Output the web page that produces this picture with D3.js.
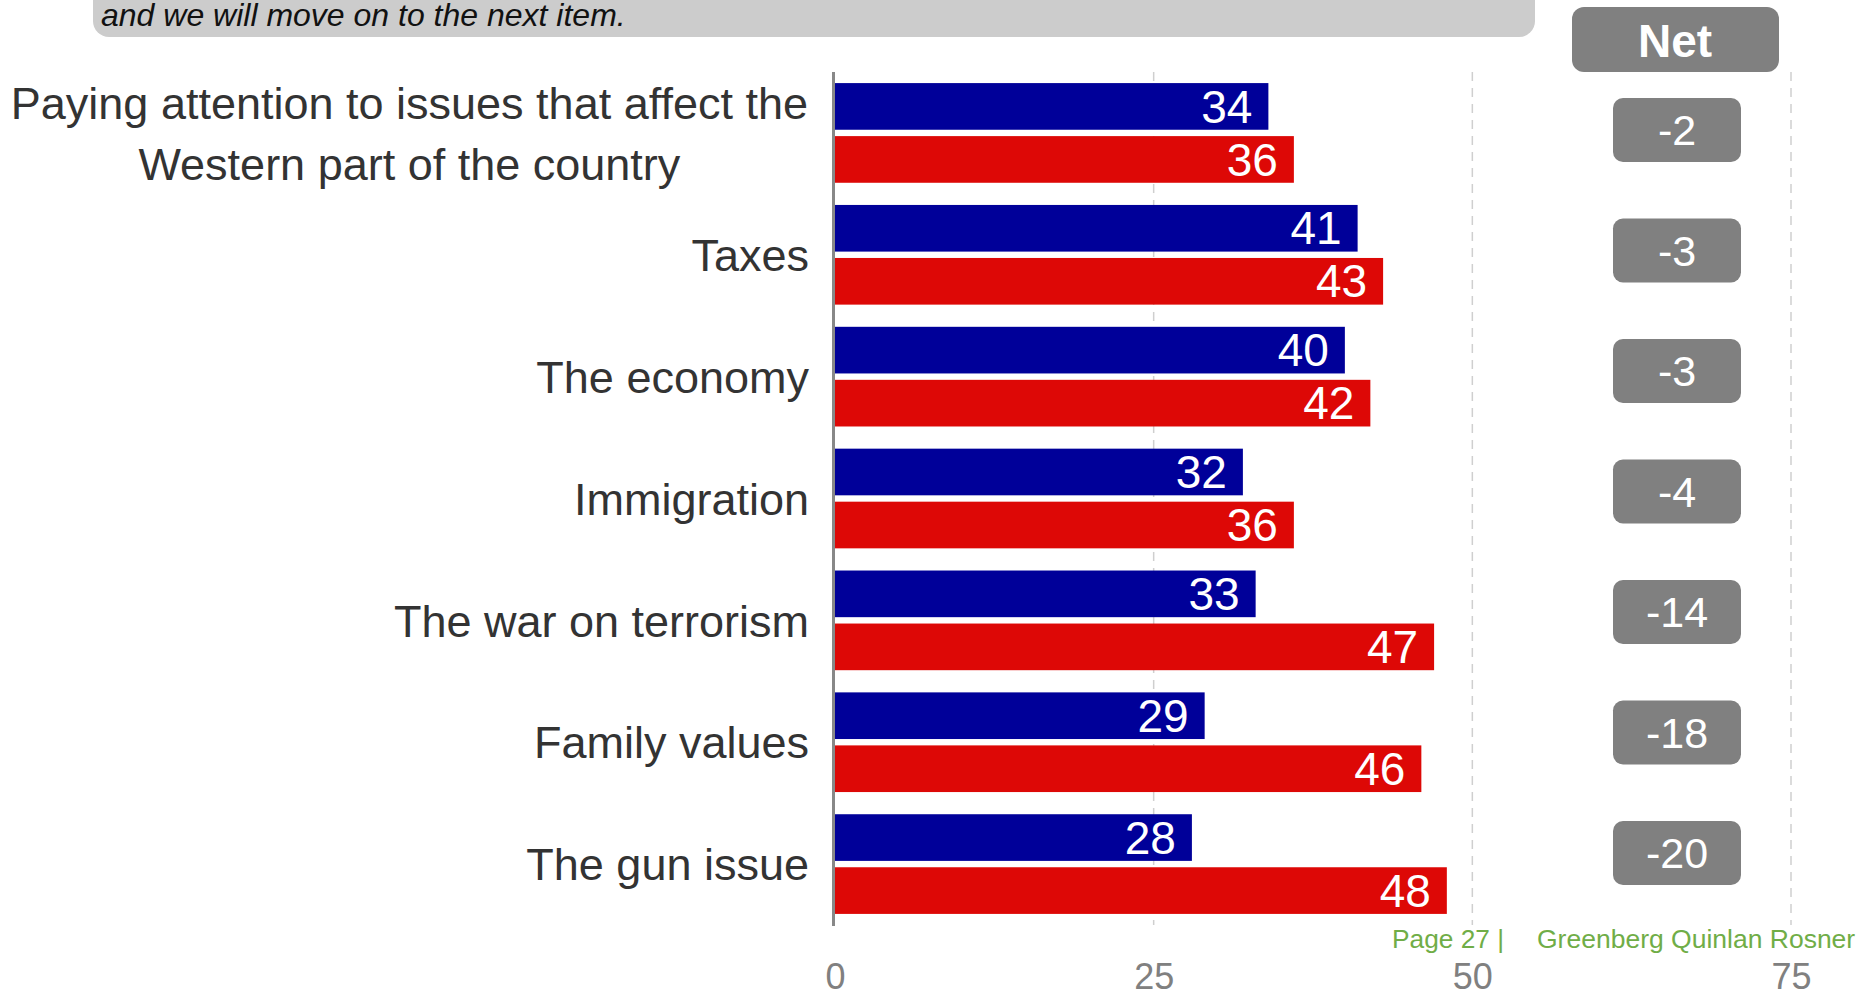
<!DOCTYPE html>
<html><head><meta charset="utf-8">
<script src="https://cdn.jsdelivr.net/npm/d3@7"></script>
<style>
body{margin:0;background:#fff;}
svg{display:block;font-family:"Liberation Sans",Arial,sans-serif;}
</style>
</head><body>
<svg id="c" width="1875" height="995"></svg>
<script>
const categories = [
  "Paying attention to issues that affect the\nWestern part of the country",
  "Taxes",
  "The economy",
  "Immigration",
  "The war on terrorism",
  "Family values",
  "The gun issue"
];
const seriesNames = ["Democrats", "Republicans"];
const blueValues = [34, 41, 40, 32, 33, 29, 28];
const redValues = [36, 43, 42, 36, 47, 46, 48];
const netValues = [-2, -3, -3, -4, -14, -18, -20];
const xTicks = [0, 25, 50, 75];
const bannerText = "and we will move on to the next item.";
const netHeader = "Net";
const footerPage = "Page 27 |";
const footerOrg = "Greenberg Quinlan Rosner";

const colors = { Democrats: "#000099", Republicans: "#DD0806" };
const svg = d3.select("#c");

// Scales
const x = d3.scaleLinear().domain([0, 75]).range([835, 1791]);
const y = d3.scaleBand().domain(categories).range([72, 925]).paddingInner(0.182).paddingOuter(0.091);
const ySub = d3.scaleBand().domain(seriesNames).range([0, y.bandwidth()]).paddingInner(0.12);
const yNet = d3.scalePoint().domain(categories).range([130, 853]);

// Top banner
svg.append("rect").attr("x", 93).attr("y", -30).attr("width", 1442).attr("height", 67)
  .attr("rx", 16).attr("fill", "#cccccc");
svg.append("text").attr("x", 101).attr("y", 26).attr("font-size", 32).attr("font-style", "italic")
  .attr("fill", "#111").text(bannerText);

// Gridlines
svg.append("g").selectAll("line").data(xTicks.filter(t => t > 0)).join("line")
  .attr("x1", d => x(d)).attr("x2", d => x(d)).attr("y1", 72).attr("y2", 925)
  .attr("stroke", "#cfcfcf").attr("stroke-width", 1.5).attr("stroke-dasharray", "9,7");

// Bottom axis labels
const axis = svg.append("g").attr("transform", "translate(0,923)")
  .call(d3.axisBottom(x).tickValues(xTicks).tickSize(0).tickPadding(40).tickFormat(d3.format("d")));
axis.select(".domain").remove();
axis.selectAll("text").attr("font-size", 36).attr("fill", "#808080")
  .attr("font-family", "'Liberation Sans',Arial,sans-serif");

// Data rows
const rows = categories.map((c, i) => ({ c, vals: [
  { s: "Democrats", v: blueValues[i] },
  { s: "Republicans", v: redValues[i] }
], net: netValues[i] }));

const rowG = svg.append("g").selectAll("g").data(rows).join("g")
  .attr("transform", d => `translate(0,${y(d.c)})`);

rowG.selectAll("rect").data(d => d.vals).join("rect")
  .attr("x", x(0)).attr("y", d => ySub(d.s))
  .attr("width", d => x(d.v) - x(0)).attr("height", ySub.bandwidth())
  .attr("fill", d => colors[d.s]);

rowG.selectAll("text.val").data(d => d.vals).join("text").attr("class", "val")
  .attr("x", d => x(d.v) - 16).attr("y", d => ySub(d.s) + ySub.bandwidth() / 2)
  .attr("dy", "0.35em").attr("text-anchor", "end").attr("font-size", 46).attr("fill", "#fff")
  .text(d => d.v);

// Zero axis line
svg.append("line").attr("x1", x(0) - 1.5).attr("x2", x(0) - 1.5).attr("y1", 72).attr("y2", 926)
  .attr("stroke", "#888").attr("stroke-width", 3);

// Category labels
const labelRight = 809;
const lineH = 61;
rows.forEach(d => {
  const lines = d.c.split("\n");
  const cy = y(d.c) + y.bandwidth() / 2;
  const t = svg.append("text").attr("font-size", 45).attr("fill", "#333");
  if (lines.length === 1) {
    t.attr("x", labelRight).attr("y", cy).attr("dy", "0.36em").attr("text-anchor", "end").text(lines[0]);
  } else {
    const ts = lines.map((l, i) => t.append("tspan").attr("y", cy + 16.6 + (i - (lines.length - 1) / 2) * lineH).text(l));
    const widths = ts.map(s => s.node().getComputedTextLength());
    const cx = labelRight - 1 - d3.max(widths) / 2;
    ts.forEach(s => s.attr("x", cx));
    t.attr("text-anchor", "middle");
  }
});

// Net header
svg.append("rect").attr("x", 1572).attr("y", 7).attr("width", 207).attr("height", 65)
  .attr("rx", 12).attr("fill", "#808080");
svg.append("text").attr("x", 1675).attr("y", 57).attr("text-anchor", "middle")
  .attr("font-size", 46).attr("font-weight", "bold").attr("fill", "#fff").text(netHeader);

// Net boxes
const netG = svg.append("g").selectAll("g").data(rows).join("g")
  .attr("transform", d => `translate(1677,${yNet(d.c)})`);
netG.append("rect").attr("x", -64).attr("y", -32).attr("width", 128).attr("height", 64)
  .attr("rx", 10).attr("fill", "#808080");
netG.append("text").attr("text-anchor", "middle").attr("dy", "0.35em")
  .attr("font-size", 43).attr("fill", "#fff").text(d => d.net);

// Footer
svg.append("text").attr("x", 1392).attr("y", 948).attr("font-size", 26.3).attr("fill", "#70AD47").text(footerPage);
svg.append("text").attr("x", 1537).attr("y", 948).attr("font-size", 26.5).attr("fill", "#70AD47").text(footerOrg);
</script>
</body></html>
